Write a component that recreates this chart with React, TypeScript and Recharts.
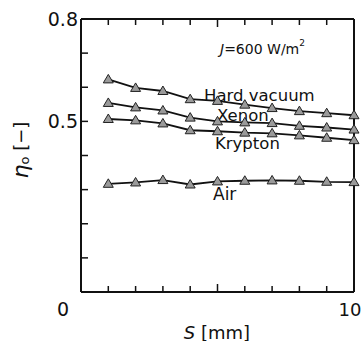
import React from 'react';
import { LineChart, Line, XAxis, YAxis } from 'recharts';

const sValues = [1, 2, 3, 4, 5, 6, 7, 8, 9, 10];
const hardVacuum = [0.623, 0.598, 0.589, 0.565, 0.560, 0.549, 0.539, 0.530, 0.524, 0.518];
const xenon = [0.554, 0.541, 0.532, 0.511, 0.500, 0.497, 0.495, 0.487, 0.482, 0.476];
const krypton = [0.507, 0.503, 0.494, 0.474, 0.471, 0.467, 0.465, 0.459, 0.452, 0.445];
const air = [0.317, 0.321, 0.328, 0.315, 0.324, 0.326, 0.327, 0.326, 0.323, 0.322];

const xTicks = [0, 1, 2, 3, 4, 5, 6, 7, 8, 9, 10];
const yTicks = [0, 0.1, 0.2, 0.3, 0.4, 0.5, 0.6, 0.7, 0.8];
const xTickLabels: Record<string, string> = { '0': '0', '10': '10' };
const yTickLabels: Record<string, string> = { '0.5': '0.5', '0.8': '0.8' };

const data = sValues.map((s, i) => ({
  s,
  hv: hardVacuum[i],
  xe: xenon[i],
  kr: krypton[i],
  air: air[i],
}));

const FONT = 'DejaVu Sans';

const Tri = (props: any) => {
  const { cx, cy } = props;
  if (cx == null || cy == null) return null;
  return (
    <polygon
      points={`${cx},${cy - 5} ${cx - 5},${cy + 3.5} ${cx + 5},${cy + 3.5}`}
      fill="#9a9a9a"
      stroke="#222"
      strokeWidth={1}
    />
  );
};

const BottomTick = (props: any) => {
  const { x, y, payload } = props;
  const v = payload.value;
  const len = v === 5 ? 8 : 6;
  const lbl = xTickLabels[String(v)];
  return (
    <g>
      <line x1={x} y1={y} x2={x} y2={y - len} stroke="#111" strokeWidth={1.5} />
      {lbl && (
        <text
          x={x + (v === 0 ? -18 : -4)}
          y={y + 17}
          textAnchor="middle"
          dominantBaseline="central"
          fontFamily={FONT}
          fontSize={v === 0 ? 19 : 18}
          fill="#111"
        >
          {lbl}
        </text>
      )}
    </g>
  );
};

const TopTick = (props: any) => {
  const { x, y, payload } = props;
  const len = payload.value === 5 ? 8 : 6;
  return <line x1={x} y1={y} x2={x} y2={y + len} stroke="#111" strokeWidth={1.5} />;
};

const LeftTick = (props: any) => {
  const { x, y, payload } = props;
  const v = Math.round(payload.value * 10) / 10;
  const lbl = yTickLabels[String(v)];
  return (
    <g>
      <line x1={x} y1={y} x2={x + 7} y2={y} stroke="#111" strokeWidth={1.5} />
      {lbl && (
        <text
          x={x - 3}
          y={y}
          textAnchor="end"
          dominantBaseline="central"
          fontFamily={FONT}
          fontSize={19}
          fill="#111"
        >
          {lbl}
        </text>
      )}
    </g>
  );
};

const RightTick = (props: any) => {
  const { x, y } = props;
  return <line x1={x} y1={y} x2={x - 7} y2={y} stroke="#111" strokeWidth={1.5} />;
};

export default function App() {
  const axisLine = { stroke: '#111', strokeWidth: 2 };
  return (
    <div style={{ position: 'absolute', left: 0, top: 0, background: '#fff' }}>
      <LineChart
        width={362}
        height={341}
        data={data}
        margin={{ top: 9, right: 2, bottom: 19, left: 41 }}
      >
        <XAxis
          dataKey="s"
          type="number"
          domain={[0, 10]}
          ticks={xTicks}
          interval={0}
          height={30}
          tickSize={0}
          tickMargin={0}
          tickLine={false}
          axisLine={axisLine}
          tick={<BottomTick />}
        />
        <XAxis
          xAxisId="t"
          orientation="top"
          dataKey="s"
          type="number"
          domain={[0, 10]}
          ticks={xTicks}
          interval={0}
          height={10}
          tickSize={0}
          tickMargin={0}
          tickLine={false}
          axisLine={axisLine}
          tick={<TopTick />}
        />
        <YAxis
          type="number"
          domain={[0, 0.8]}
          ticks={yTicks}
          interval={0}
          width={40}
          tickSize={0}
          tickMargin={0}
          tickLine={false}
          axisLine={axisLine}
          tick={<LeftTick />}
        />
        <YAxis
          yAxisId="r"
          orientation="right"
          type="number"
          domain={[0, 0.8]}
          ticks={yTicks}
          interval={0}
          width={6}
          tickSize={0}
          tickMargin={0}
          tickLine={false}
          axisLine={axisLine}
          tick={<RightTick />}
        />
        <Line dataKey="hv" stroke="#111" strokeWidth={1.8} dot={<Tri />} isAnimationActive={false} />
        <Line dataKey="xe" stroke="#111" strokeWidth={1.8} dot={<Tri />} isAnimationActive={false} />
        <Line dataKey="kr" stroke="#111" strokeWidth={1.8} dot={<Tri />} isAnimationActive={false} />
        <Line dataKey="air" stroke="#111" strokeWidth={1.8} dot={<Tri />} isAnimationActive={false} />

        <text x={220} y={49} fontFamily={FONT} fontSize={14} fill="#111" dominantBaseline="central">
          <tspan fontStyle="italic">J</tspan>=600 W/m<tspan fontSize={9} dy={-6}>2</tspan>
        </text>
        <text x={204} y={95} fontFamily={FONT} fontSize={16.5} fill="#111" dominantBaseline="central">Hard vacuum</text>
        <text x={217} y={115} fontFamily={FONT} fontSize={16.5} fill="#111" dominantBaseline="central">Xenon</text>
        <text x={215} y={143} fontFamily={FONT} fontSize={16.5} fill="#111" dominantBaseline="central">Krypton</text>
        <text x={213} y={194} fontFamily={FONT} fontSize={17} fill="#111" dominantBaseline="central">Air</text>
        <text x={217} y={332} textAnchor="middle" fontFamily={FONT} fontSize={18} fill="#111" dominantBaseline="central">
          <tspan fontStyle="italic">S</tspan>  [mm]
        </text>
        <text
          transform="rotate(-90)"
          x={-150}
          y={20}
          textAnchor="middle"
          dominantBaseline="central"
          fontFamily={FONT}
          fill="#111"
        >
          <tspan fontStyle="italic" fontSize={22}>η</tspan>
          <tspan fontSize={13} dy={4}>o</tspan>
          <tspan fontSize={18} dy={-4}> [−]</tspan>
        </text>
      </LineChart>
    </div>
  );
}
